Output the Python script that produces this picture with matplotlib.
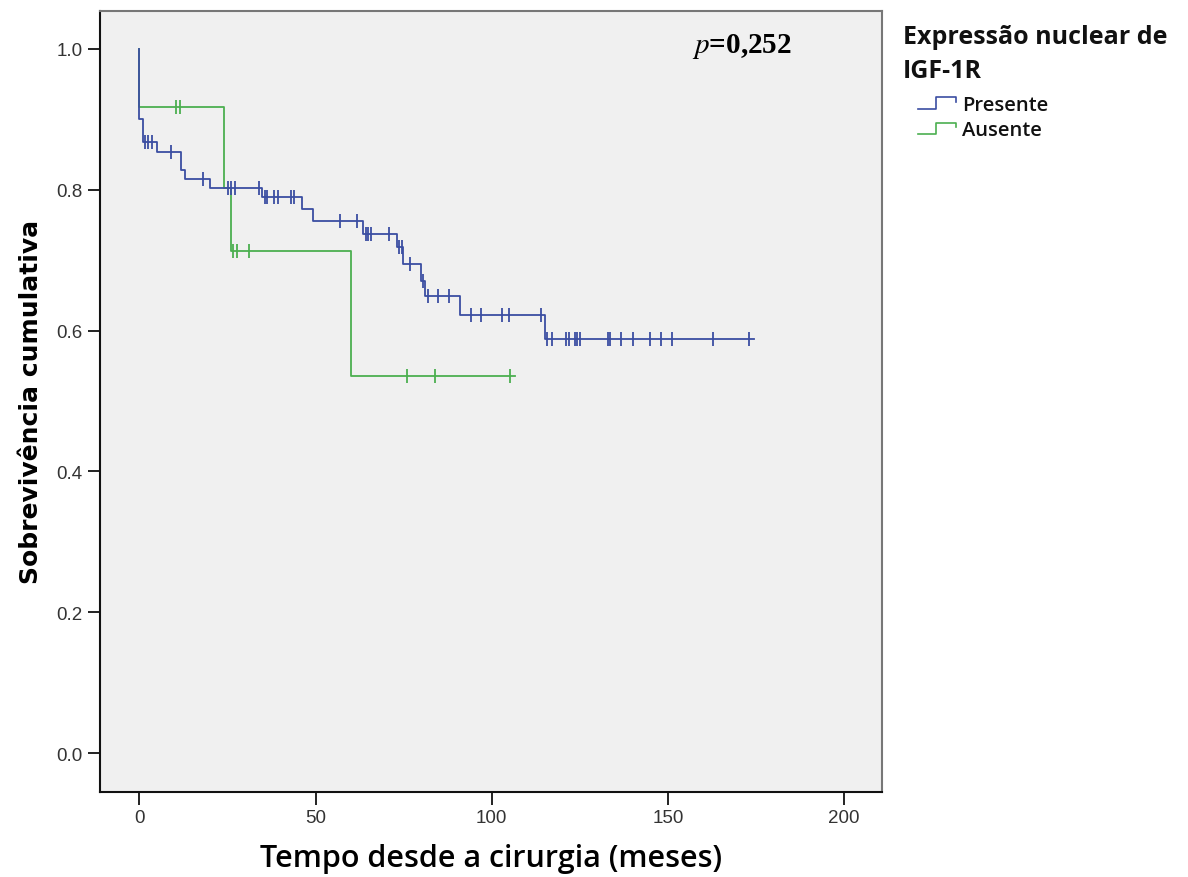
import numpy as np
import matplotlib
matplotlib.use('Agg')
import matplotlib.pyplot as plt
from matplotlib.lines import Line2D
from matplotlib.legend_handler import HandlerBase

# Kaplan-Meier steps (time in months, survival after the step)
pres_times = [0, 0, 1.0, 4.9, 11.8, 12.9, 20.0, 34.7, 46.0, 49.2, 63.5, 73.0, 74.9, 79.8, 81.0, 91.0, 115.2]
pres_surv = [1.0, 0.900, 0.867, 0.853, 0.828, 0.815, 0.802, 0.789, 0.772, 0.755, 0.737, 0.718, 0.694, 0.671, 0.649, 0.622, 0.588]
pres_end = 174.5
pres_cens = [1.5, 2.5, 3.5, 8.9, 18.1, 25.0, 26.0, 27.0, 33.8, 35.5, 36.3, 38.3, 39.2, 43.0, 43.8,
             56.9, 61.8, 64.2, 65.0, 65.8, 70.9, 73.8, 74.4, 76.8, 80.4, 82.0, 84.8, 88.0,
             94.0, 97.0, 102.8, 105.0, 114.0, 115.8, 117.0, 121.0, 121.9, 123.6, 124.3, 125.0,
             133.1, 133.7, 136.7, 140.0, 144.9, 148.0, 151.1, 162.9, 173.0]

aus_times = [0, 0, 24.0, 26.0, 60.0]
aus_surv = [1.0, 0.917, 0.803, 0.713, 0.535]
aus_end = 106.5
aus_cens = [10.5, 11.5, 26.6, 27.6, 31.0, 76.0, 84.0, 105.2]

blue = '#3b4ea2'
green = '#4caf50'


def step_xy(times, surv, end):
    xs = list(times) + [end]
    ys = list(surv) + [surv[-1]]
    return xs, ys


def cens_y(times, surv, cens):
    idx = np.searchsorted(np.array(times), np.array(cens), side='right') - 1
    return np.array(surv)[idx]


class StepHandler(HandlerBase):
    def create_artists(self, legend, orig_handle, xdescent, ydescent, width, height, fontsize, trans):
        x0 = -xdescent
        y0 = -ydescent
        xs = np.array([0, 0.45, 0.45, 0.95, 0.95]) * width + x0
        ys = np.array([0.1, 0.1, 0.9, 0.9, 0.55]) * height + y0
        ln = Line2D(xs, ys, color=orig_handle.get_color(), lw=1.2, transform=trans)
        return [ln]


fig = plt.figure(figsize=(11.88, 8.78), dpi=100)
ax = fig.add_axes([0.0842, 0.0968, 0.7422 - 0.0842, 0.9867 - 0.0968])
ax.set_facecolor('#f0f0f0')

x, y = step_xy(pres_times, pres_surv, pres_end)
ax.step(x, y, where='post', color=blue, lw=1.3, zorder=3)
ax.plot(pres_cens, cens_y(pres_times, pres_surv, pres_cens), ls='none', marker='|',
        ms=10, mew=1.3, color=blue, zorder=4)

x, y = step_xy(aus_times, aus_surv, aus_end)
ax.step(x, y, where='post', color=green, lw=1.3, zorder=2)
ax.plot(aus_cens, cens_y(aus_times, aus_surv, aus_cens), ls='none', marker='|',
        ms=10, mew=1.3, color=green, zorder=2)

ax.set_xlim(-11.2, 210.7)
ax.set_ylim(-0.055, 1.054)
ax.set_xticks([0, 50, 100, 150, 200])
ax.set_yticks([0.0, 0.2, 0.4, 0.6, 0.8, 1.0])
ax.set_yticklabels(['0.0', '0.2', '0.4', '0.6', '0.8', '1.0'])
ax.tick_params(axis='both', direction='out', length=9, width=1.4, colors='#222222',
               labelsize=13.5, labelcolor='#333333')
for lab in ax.get_xticklabels() + ax.get_yticklabels():
    lab.set_family('Liberation Sans')

for s in ['left', 'bottom']:
    ax.spines[s].set_color('#111111')
    ax.spines[s].set_linewidth(1.5)
for s in ['top', 'right']:
    ax.spines[s].set_color('#777777')
    ax.spines[s].set_linewidth(1.5)

ax.set_xlabel('Tempo desde a cirurgia (meses)', fontsize=22, family='Open Sans',
              fontweight='semibold', labelpad=12)
ax.set_ylabel('Sobrevivência cumulativa', fontsize=18, family='DejaVu Sans',
              fontweight='bold', labelpad=10)

plt.rcParams['mathtext.fontset'] = 'stix'
ax.text(0.757, 0.955, r'$p$=0,252', transform=ax.transAxes, fontsize=21,
        family='Liberation Serif', fontweight='bold', va='center', ha='left')

# legend title as two lines of text, entries through the legend
fig.text(903 / 1188, 1 - 38 / 878, 'Expressão nuclear de', family='Open Sans',
         fontweight='bold', fontsize=18, va='center', ha='left', color='#111111')
fig.text(903 / 1188, 1 - 72 / 878, 'IGF-1R', family='Open Sans',
         fontweight='bold', fontsize=18, va='center', ha='left', color='#111111')

handles = [Line2D([], [], color=blue), Line2D([], [], color=green)]
leg = fig.legend(handles, ['Presente', 'Ausente'], loc='upper left',
                 bbox_to_anchor=(918 / 1188, 1 - 96 / 878), frameon=False,
                 handler_map={Line2D: StepHandler()}, handlelength=2.0, handleheight=0.7,
                 handletextpad=0.2, borderpad=0, borderaxespad=0, labelspacing=0.26,
                 prop={'family': 'Open Sans', 'weight': 'semibold', 'size': 14.5})
for t in leg.get_texts():
    t.set_color('#111111')

fig.savefig('out.png', dpi=100, facecolor='white')
